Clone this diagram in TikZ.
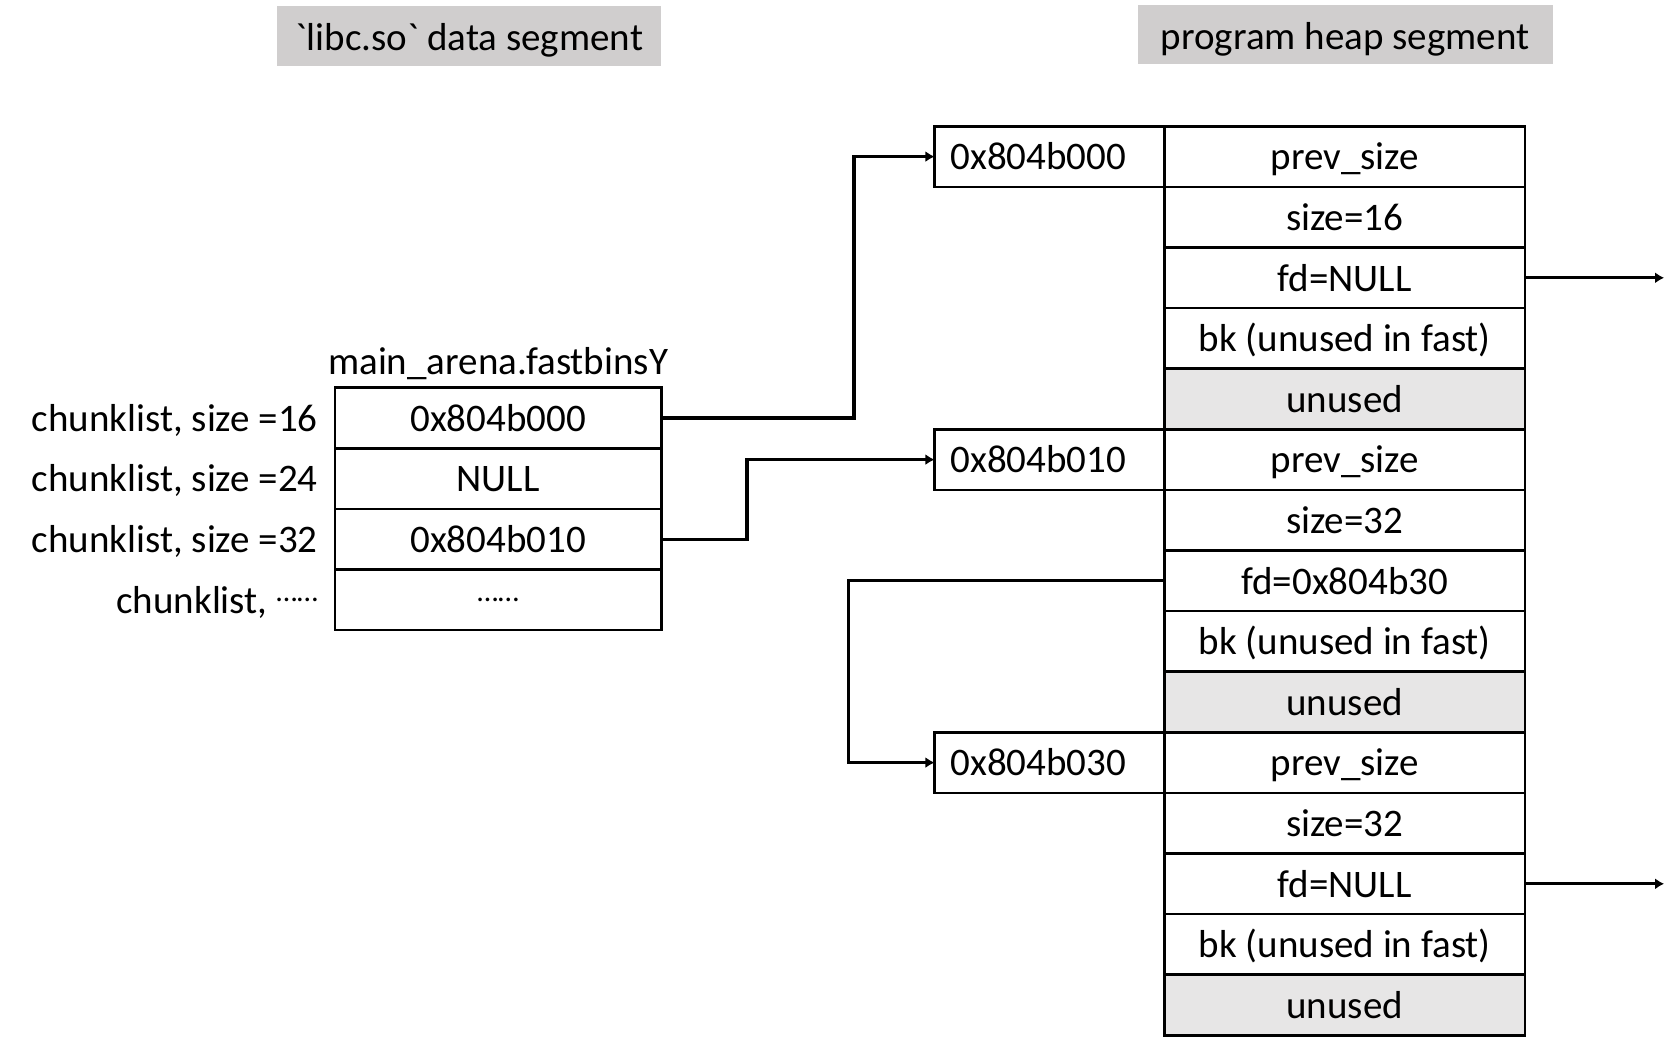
\documentclass[tikz,border=0pt]{standalone}
\usepackage{fontspec}
\setmainfont{Carlito}
\usepackage{xcolor}
\usepackage{tikz}
\usetikzlibrary{positioning,arrows.meta}
\definecolor{hdrgray}{HTML}{D0CECE}
\definecolor{unusedgray}{HTML}{E7E6E6}

\begin{document}
\begin{tikzpicture}[
	x=1pt, y=1pt,
	every node/.style={font=\fontsize{19.5}{23}\selectfont, outer sep=0pt},
	cell/.style={draw, line width=1.3pt, minimum height=30.3pt, inner sep=0pt,
		text height=15.5pt, text depth=2.3pt},
	heapcell/.style={cell, minimum width=180.35pt},
	unusedcell/.style={heapcell, fill=unusedgray},
	addrbox/.style={cell, minimum width=115pt, text width=99pt, align=left, inner xsep=8pt},
	bincell/.style={cell, minimum width=163.2pt},
	header/.style={fill=hdrgray, inner sep=0pt, text height=16pt, text depth=1.8pt},
	binlabel/.style={inner sep=0pt, text height=15.5pt, text depth=2.3pt},
	ptr/.style={
		draw,
		->, >={Latex[length=4.5pt,width=5.5pt]}, line width=1.6pt
	}
	]
	\useasboundingbox (0,0) rectangle (839,-525);

	\node[header, minimum width=192pt, minimum height=30pt] (libchdr) at (234.65,-18.2)
		{\textasciigrave libc.so\textasciigrave\ data segment};
	\node[header, minimum width=207.6pt, minimum height=29.4pt] (heaphdr) at (672.6,-17.4)
		{program heap segment};

	% fastbins in libc
	\node[bincell] (bin1) at (249.1,-209) {0x804b000};
	\node[bincell, below=0pt of bin1] (bin2) {NULL};
	\node[bincell, below=0pt of bin2] (bin3) {0x804b010};
	\node[bincell, below=0pt of bin3] (bin4) {\raisebox{6pt}{\fontsize{15}{15}\selectfont ……}};
	\node[inner sep=0pt, above=4pt of bin1] (fbtitle) {main\_arena.fastbinsY};
	\node[binlabel, left=8.6pt of bin1] (lab1) {chunklist, size =16};
	\node[binlabel, left=8.6pt of bin2] (lab2) {chunklist, size =24};
	\node[binlabel, left=8.6pt of bin3] (lab3) {chunklist, size =32};
	\node[binlabel, left=8.6pt of bin4] (lab4) {chunklist, \raisebox{6pt}{\fontsize{15}{15}\selectfont ……}};

	% heap chunks
	\node[heapcell] (c1) at (672.4,-78.3) {prev\_size};
	\node[heapcell, below=0pt of c1] (c2) {size=16};
	\node[heapcell, below=0pt of c2] (c3) {fd=NULL};
	\node[heapcell, below=0pt of c3] (c4) {bk (unused in fast)};
	\node[unusedcell, below=0pt of c4] (c5) {unused};
	\node[heapcell, below=0pt of c5] (c6) {prev\_size};
	\node[heapcell, below=0pt of c6] (c7) {size=32};
	\node[heapcell, below=0pt of c7] (c8) {fd=0x804b30};
	\node[heapcell, below=0pt of c8] (c9) {bk (unused in fast)};
	\node[unusedcell, below=0pt of c9] (c10) {unused};
	\node[heapcell, below=0pt of c10] (c11) {prev\_size};
	\node[heapcell, below=0pt of c11] (c12) {size=32};
	\node[heapcell, below=0pt of c12] (c13) {fd=NULL};
	\node[heapcell, below=0pt of c13] (c14) {bk (unused in fast)};
	\node[unusedcell, below=0pt of c14] (c15) {unused};

	\node[addrbox, left=0pt of c1] (addr1) {0x804b000};
	\node[addrbox, left=0pt of c6] (addr2) {0x804b010};
	\node[addrbox, left=0pt of c11] (addr3) {0x804b030};

	% pointers
	\coordinate[right=96.3pt of bin1] (bend1);
	\coordinate[right=42.8pt of bin3] (bend2);
	\coordinate[left=157.85pt of c8] (bend3);
	\coordinate[right=69.5pt of c3] (nullend1);
	\coordinate[right=69.5pt of c13] (nullend2);

	\draw[ptr] (bin1.east) -- (bend1) |- (addr1.west);
	\draw[ptr] (bin3.east) -- (bend2) |- (addr2.west);
	\draw[ptr] (c8.west) -- (bend3) |- (addr3.west);
	\draw[ptr] (c3.east) -- (nullend1);
	\draw[ptr] (c13.east) -- (nullend2);
\end{tikzpicture}
\end{document}
